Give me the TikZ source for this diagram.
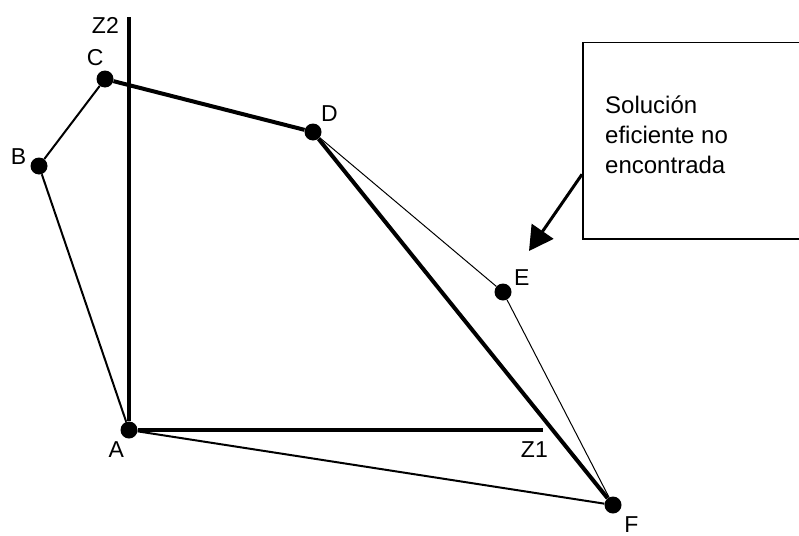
\documentclass[tikz,border=0pt]{standalone}
\usepackage{fontspec}
\setmainfont{Liberation Sans}
\usetikzlibrary{arrows.meta, positioning, calc}

\begin{document}
\begin{tikzpicture}[
  x=1pt, y=-1pt,
  dot/.style       = {circle, fill=black, inner sep=0pt, minimum size=17pt},
  lbl/.style       = {inner sep=0pt, font=\fontsize{23}{28}\selectfont},
  boldline/.style  = {line width=4pt},
  plainline/.style = {line width=2pt},
  hairline/.style  = {line width=1pt},
  note/.style      = {-{Triangle[length=24pt, width=26pt]}, line width=3pt},
  label distance=4pt,
]
\useasboundingbox (0,0) rectangle (799,535);
% points of the polygon
\node[dot, label={[lbl]-112:A}]                     (A) at (129,430) {};
\node[dot, label={[lbl]176:B}]                      (B) at (39,166)  {};
\node[dot, label={[lbl]96:C}]                       (C) at (105,79)  {};
\node[dot, label={[lbl]52:D}]                       (D) at (313,132) {};
\node[dot, label={[lbl]30:E}]                       (E) at (503,292) {};
\node[dot, label={[lbl, label distance=7pt]-45:F}]  (F) at (613,505) {};
% axes
\coordinate (z2) at (129,17);
\coordinate (z1) at (543,430);
\node[lbl, below left=0pt and 10pt of z2]  (z2lbl) {Z2};
\node[lbl, below left=11pt and -5pt of z1] (z1lbl) {Z1};
\draw[boldline] (A) -- (z2);
\draw[boldline] (A) -- (z1);
% edges
\draw[plainline] (A) -- (B);
\draw[plainline] (B) -- (C);
\draw[boldline]  (C) -- (D);
\draw[boldline]  (D) -- (F);
\draw[hairline]  (D) -- (E);
\draw[hairline]  (E) -- (F);
\draw[plainline] (A) -- (F);
% note box
\node[draw, line width=1.5pt, minimum width=300pt, minimum height=196pt,
      anchor=north west] (box) at (582,42) {};
\node[lbl, font=\fontsize{24}{30}\selectfont, align=left, anchor=base west]
      (msg) at (605,173) {Solución\\eficiente no\\encontrada};
\coordinate (tip) at (529,251);
\draw[note] ($(box.south west)!0.33!(box.north west)$) -- (tip);
\end{tikzpicture}
\end{document}
